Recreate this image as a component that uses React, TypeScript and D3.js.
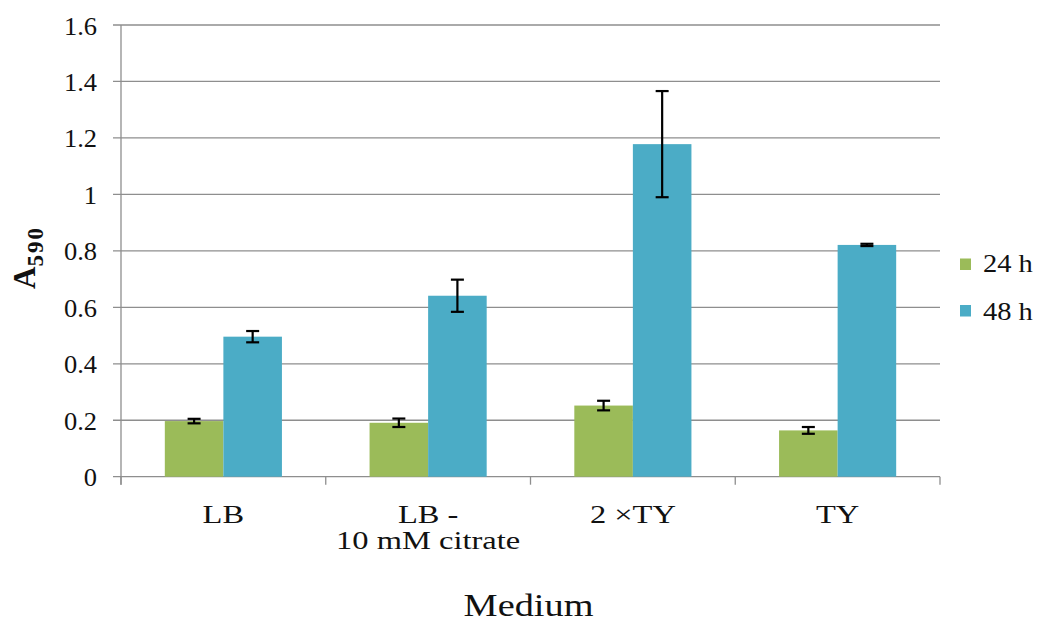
import React from "react";
import * as d3 from "d3";

const categories: string[][] = [["LB"], ["LB -", "10 mM citrate"], ["2 ×TY"], ["TY"]];
const seriesNames = ["24 h", "48 h"];
const seriesColors = ["#9BBB59", "#4BACC6"];
const values24 = [0.197, 0.191, 0.252, 0.164];
const errors24 = [0.008, 0.015, 0.017, 0.012];
const values48 = [0.496, 0.641, 1.178, 0.821];
const errors48 = [0.02, 0.057, 0.188, 0.004];
const yTicks = [0, 0.2, 0.4, 0.6, 0.8, 1, 1.2, 1.4, 1.6];
const yTickLabels = ["0", "0.2", "0.4", "0.6", "0.8", "1", "1.2", "1.4", "1.6"];
const xTitle = "Medium";

const W = 1037;
const H = 622;
const left = 121;
const right = 940;
const top = 25;
const bottom = 476.7;
const FONT = '"Liberation Serif", "Times New Roman", Times, "DejaVu Serif", serif';
const GRID = "#8e8e8e";
const ts = { fontFamily: FONT } as React.CSSProperties;

export default function App() {
  const y = d3.scaleLinear().domain([0, 1.6]).range([bottom, top]);
  const keys = categories.map((c) => c.join(" "));
  const x0 = d3.scaleBand<string>().domain(keys).range([left, right]).padding(0);
  const groupW = x0.bandwidth() * 0.572;
  const x1 = d3.scaleBand<string>().domain(seriesNames).range([0, groupW]).padding(0);
  const data = [
    { vals: values24, errs: errors24 },
    { vals: values48, errs: errors48 },
  ];
  const boundaries = [...keys.map((k) => x0(k)!), right];

  return (
    <svg
      width={W}
      height={H}
      style={{ position: "absolute", left: 0, top: 0, background: "#fff", fontFamily: FONT }}
    >
      <rect x={0} y={0} width={W} height={H} fill="#fff" />
      {yTicks.map((t, i) => (
        <g key={"g" + i}>
          <line x1={left - 8} x2={right} y1={y(t)} y2={y(t)} stroke={GRID} strokeWidth={1.3} />
          <text
            transform={`translate(97,${y(t) + 9.5}) scale(1.08,1)`}
            textAnchor="end"
            fontSize={24.5}
            fill="#111"
            style={ts}
          >
            {yTickLabels[i]}
          </text>
        </g>
      ))}
      <line x1={left} x2={left} y1={top} y2={bottom + 8} stroke={GRID} strokeWidth={1.3} />
      {boundaries.map((bx, i) => (
        <line key={"xt" + i} x1={bx} x2={bx} y1={bottom} y2={bottom + 8} stroke={GRID} strokeWidth={1.3} />
      ))}
      {keys.map((k, ci) => {
        const gx = x0(k)! + (x0.bandwidth() - groupW) / 2;
        return (
          <g key={"c" + ci}>
            {seriesNames.map((s, si) => {
              const v = data[si].vals[ci];
              const bx = gx + x1(s)!;
              return (
                <rect
                  key={s}
                  x={bx}
                  y={y(v)}
                  width={x1.bandwidth()}
                  height={y(0) - y(v)}
                  fill={seriesColors[si]}
                />
              );
            })}
          </g>
        );
      })}
      {keys.map((k, ci) => {
        const gx = x0(k)! + (x0.bandwidth() - groupW) / 2;
        return (
          <g key={"e" + ci} stroke="#000" strokeWidth={2.2}>
            {seriesNames.map((s, si) => {
              const v = data[si].vals[ci];
              const e = data[si].errs[ci];
              const cx = gx + x1(s)! + x1.bandwidth() / 2;
              return (
                <g key={s}>
                  <line x1={cx} x2={cx} y1={y(v + e)} y2={y(v - e)} />
                  <line x1={cx - 6.5} x2={cx + 6.5} y1={y(v + e)} y2={y(v + e)} />
                  <line x1={cx - 6.5} x2={cx + 6.5} y1={y(v - e)} y2={y(v - e)} />
                </g>
              );
            })}
          </g>
        );
      })}
      {categories.map((lines, ci) => {
        const cx = x0(keys[ci])! + x0.bandwidth() / 2;
        return lines.map((ln, li) => (
          <text
            key={"cl" + ci + "-" + li}
            transform={`translate(${cx},${522.7 + li * 26}) scale(1.25,1)`}
            textAnchor="middle"
            fontSize={26}
            fill="#111"
            style={ts}
          >
            {ln}
          </text>
        ));
      })}
      <text
        transform={`translate(${(left + right) / 2 - 2},615.5) scale(1.18,1)`}
        textAnchor="middle"
        fontSize={32.5}
        fill="#111"
        style={ts}
      >
        {xTitle}
      </text>
      <text transform="translate(35,289) rotate(-90)" fontSize={31} fontWeight="bold" fill="#111" style={ts}>
        A
        <tspan dy={8} fontSize={23} letterSpacing={2}>
          590
        </tspan>
      </text>
      {seriesNames.map((s, si) => (
        <g key={"lg" + si}>
          <rect x={960} y={258.5 + si * 46.5} width={11} height={11.5} fill={seriesColors[si]} />
          <text
            transform={`translate(983,${272.3 + si * 47.5}) scale(1.14,1)`}
            fontSize={25}
            fill="#111"
            style={ts}
          >
            {s}
          </text>
        </g>
      ))}
    </svg>
  );
}
